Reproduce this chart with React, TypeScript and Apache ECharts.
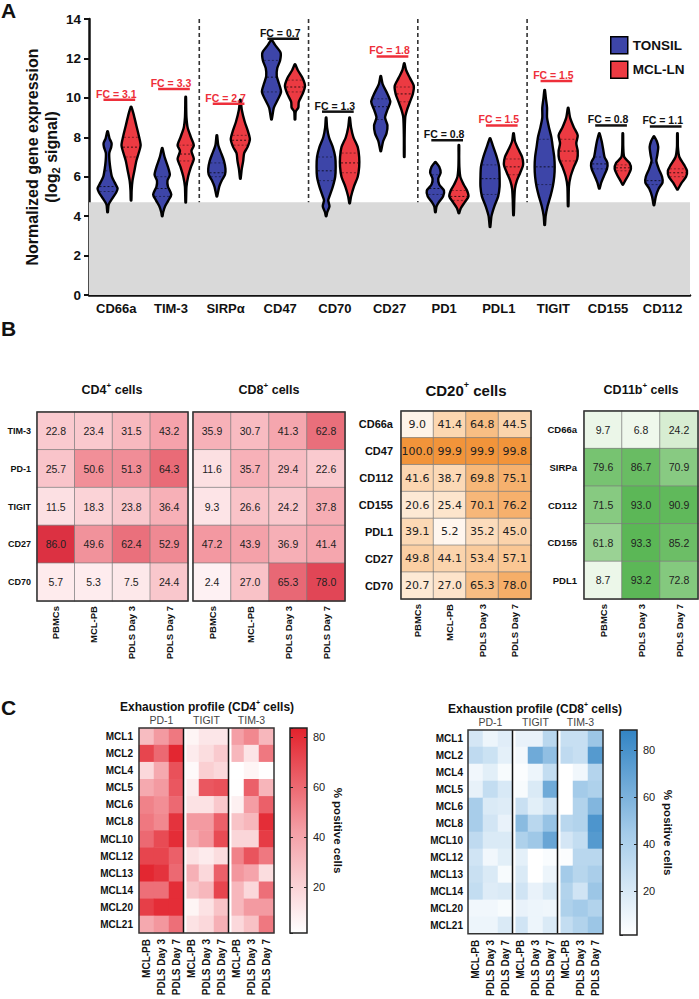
import React, { useEffect, useRef } from 'react';
import * as echarts from 'echarts';

const FONT = '"Liberation Sans", Arial, Helvetica, sans-serif';
const INK = '#111111';
const BLUE = '#3d45a8';
const RED = '#ec3a42';
const FC_RED = '#ee2f3a';

// ---------------- Panel A data ----------------
const MARKERS = ['CD66a', 'TIM-3', 'SIRPα', 'CD47', 'CD70', 'CD27', 'PD1', 'PDL1', 'TIGIT', 'CD155', 'CD112'];
const GROUPS = ['TONSIL', 'MCL-LN'];
const DETECTION_LIMIT = 4.7;
const SEPARATOR_AFTER = [1, 3, 5, 7];
const FC_VALUES = ['3.1', '3.3', '2.7', '0.7', '1.3', '1.8', '0.8', '1.5', '1.5', '0.8', '1.1'];
const FC_SIGNIFICANT = [true, true, true, false, false, true, false, true, true, false, false];
const FC_BAR_Y = [9.9, 10.45, 9.7, 13.0, 9.3, 12.1, 7.85, 8.6, 10.85, 8.6, 8.55];

// density profiles [log2 signal, relative density], bottom to top
const TONSIL_PROFILES = [
  [[4.2, 0.03], [4.6, 0.12], [4.9, 0.5], [5.2, 0.9], [5.4, 1.05], [5.7, 0.75], [6.0, 0.45], [6.4, 0.3], [6.8, 0.2], [7.2, 0.18], [7.5, 0.38], [7.7, 0.42], [7.95, 0.2], [8.3, 0.03]],
  [[4.0, 0.03], [4.2, 0.1], [4.5, 0.3], [4.8, 0.65], [5.1, 0.95], [5.5, 0.6], [5.8, 0.55], [6.1, 0.8], [6.5, 0.6], [7.0, 0.25], [7.45, 0.03]],
  [[5.0, 0.03], [5.5, 0.25], [5.8, 0.5], [6.1, 0.85], [6.4, 0.9], [6.8, 0.75], [7.2, 0.45], [7.6, 0.15], [8.1, 0.03]],
  [[8.9, 0.03], [9.5, 0.25], [9.9, 0.65], [10.3, 1.0], [10.7, 0.8], [11.1, 0.55], [11.5, 0.6], [11.9, 0.9], [12.3, 0.95], [12.7, 0.35], [12.95, 0.03]],
  [[4.0, 0.03], [4.2, 0.12], [4.5, 0.35], [4.8, 0.22], [5.0, 0.35], [5.5, 0.7], [6.0, 0.95], [6.5, 1.0], [7.0, 0.95], [7.5, 0.7], [8.0, 0.3], [8.5, 0.1], [9.0, 0.03]],
  [[7.3, 0.03], [7.8, 0.25], [8.2, 0.6], [8.6, 0.7], [9.0, 0.45], [9.4, 0.7], [9.8, 1.0], [10.2, 0.7], [10.7, 0.2], [11.1, 0.03]],
  [[4.2, 0.03], [4.5, 0.12], [4.7, 0.35], [5.0, 0.8], [5.3, 0.9], [5.6, 0.4], [5.9, 0.3], [6.2, 0.55], [6.5, 0.4], [6.75, 0.03]],
  [[3.45, 0.03], [4.0, 0.15], [4.5, 0.45], [5.0, 0.85], [5.5, 1.0], [6.0, 1.0], [6.5, 0.95], [7.0, 0.7], [7.5, 0.35], [7.95, 0.03]],
  [[3.55, 0.03], [4.0, 0.1], [4.5, 0.3], [5.0, 0.6], [5.5, 0.85], [6.0, 1.0], [6.5, 1.05], [7.0, 1.0], [7.5, 0.85], [8.0, 0.7], [8.5, 0.45], [9.0, 0.25], [9.5, 0.25], [10.0, 0.12], [10.4, 0.03]],
  [[5.4, 0.03], [5.7, 0.2], [6.0, 0.45], [6.4, 0.8], [6.7, 0.85], [7.0, 0.55], [7.4, 0.4], [7.8, 0.25], [8.2, 0.03]],
  [[4.55, 0.03], [5.0, 0.2], [5.4, 0.5], [5.7, 0.9], [6.0, 0.85], [6.4, 0.5], [6.8, 0.25], [7.1, 0.35], [7.5, 0.45], [7.8, 0.3], [8.05, 0.03]],
];
const MCL_PROFILES = [
  [[4.8, 0.03], [5.3, 0.06], [5.8, 0.15], [6.3, 0.35], [6.8, 0.55], [7.2, 0.8], [7.6, 1.0], [8.0, 0.85], [8.6, 0.55], [9.2, 0.25], [9.55, 0.03]],
  [[4.7, 0.03], [5.5, 0.08], [6.0, 0.25], [6.5, 0.55], [6.9, 0.85], [7.3, 0.6], [7.6, 0.85], [8.0, 0.55], [8.5, 0.2], [9.0, 0.08], [9.5, 0.05], [10.05, 0.03]],
  [[5.9, 0.03], [6.4, 0.15], [6.8, 0.3], [7.2, 0.4], [7.5, 0.75], [7.9, 1.0], [8.3, 0.8], [8.8, 0.45], [9.4, 0.15], [9.9, 0.03]],
  [[8.9, 0.03], [9.3, 0.08], [9.5, 0.35], [9.8, 0.4], [10.2, 0.8], [10.6, 1.05], [11.0, 0.8], [11.4, 0.3], [11.7, 0.03]],
  [[4.65, 0.03], [5.0, 0.15], [5.5, 0.45], [6.0, 0.85], [6.5, 1.0], [7.0, 1.0], [7.5, 0.85], [8.0, 0.4], [8.5, 0.15], [9.0, 0.03]],
  [[7.0, 0.03], [8.0, 0.04], [9.0, 0.1], [9.4, 0.3], [9.8, 0.6], [10.2, 0.9], [10.6, 1.0], [11.0, 0.6], [11.4, 0.2], [11.75, 0.03]],
  [[4.15, 0.03], [4.4, 0.2], [4.7, 0.6], [5.0, 1.0], [5.3, 0.85], [5.6, 0.5], [6.0, 0.15], [6.5, 0.05], [7.0, 0.03], [7.6, 0.03]],
  [[4.05, 0.03], [4.8, 0.08], [5.4, 0.15], [5.8, 0.35], [6.2, 0.7], [6.6, 1.0], [7.0, 0.9], [7.4, 0.5], [7.8, 0.15], [8.2, 0.03]],
  [[4.5, 0.03], [5.5, 0.08], [6.0, 0.25], [6.5, 0.6], [6.9, 0.95], [7.3, 1.0], [7.7, 0.85], [8.1, 1.0], [8.5, 0.6], [9.0, 0.2], [9.5, 0.03]],
  [[5.6, 0.03], [5.8, 0.25], [6.1, 0.6], [6.4, 0.85], [6.7, 0.7], [7.0, 0.15], [7.5, 0.05], [8.2, 0.03]],
  [[5.35, 0.03], [5.7, 0.45], [6.0, 0.9], [6.3, 1.0], [6.6, 0.7], [7.0, 0.2], [7.5, 0.05], [8.2, 0.03]],
];
// [Q1, median, Q3]
const TONSIL_QUARTILES = [
  [5.25, 5.5, 6.3], [5.0, 5.4, 6.0], [6.0, 6.2, 6.7], [10.3, 11.05, 11.9], [5.8, 6.3, 7.0], [8.9, 9.55, 9.95],
  [5.1, 5.4, 6.1], [5.1, 5.9, 6.6], [5.6, 6.5, 7.9], [6.4, 6.65, 7.0], [5.6, 5.8, 6.7],
];
const MCL_QUARTILES = [
  [7.0, 7.5, 8.0], [6.8, 7.15, 7.6], [7.6, 7.85, 8.1], [10.3, 10.55, 10.9], [6.2, 6.7, 7.2], [9.8, 10.2, 10.55],
  [4.8, 5.0, 5.3], [6.1, 6.5, 6.9], [6.8, 7.3, 7.9], [6.3, 6.45, 6.6], [6.0, 6.2, 6.4],
];

// ---------------- Panel B data ----------------
const B_COLS = ['PBMCs', 'MCL-PB', 'PDLS Day 3', 'PDLS Day 7'];
const TCELL_ROWS = ['TIM-3', 'PD-1', 'TIGIT', 'CD27', 'CD70'];
const CD4_VALUES = [
  [22.8, 23.4, 31.5, 43.2],
  [25.7, 50.6, 51.3, 64.3],
  [11.5, 18.3, 23.8, 36.4],
  [86.0, 49.6, 62.4, 52.9],
  [5.7, 5.3, 7.5, 24.4],
];
const CD8_VALUES = [
  [35.9, 30.7, 41.3, 62.8],
  [11.6, 35.7, 29.4, 22.6],
  [9.3, 26.6, 24.2, 37.8],
  [47.2, 43.9, 36.9, 41.4],
  [2.4, 27.0, 65.3, 78.0],
];
const CD20_ROWS = ['CD66a', 'CD47', 'CD112', 'CD155', 'PDL1', 'CD27', 'CD70'];
const CD20_VALUES = [
  [9.0, 41.4, 64.8, 44.5],
  [100.0, 99.9, 99.9, 99.8],
  [41.6, 38.7, 69.8, 75.1],
  [20.6, 25.4, 70.1, 76.2],
  [39.1, 5.2, 35.2, 45.0],
  [49.8, 44.1, 53.4, 57.1],
  [20.7, 27.0, 65.3, 78.0],
];
const CD11B_COLS = ['PBMCs', 'PDLS Day 3', 'PDLS Day 7'];
const CD11B_ROWS = ['CD66a', 'SIRPa', 'CD112', 'CD155', 'PDL1'];
const CD11B_VALUES = [
  [9.7, 6.8, 24.2],
  [79.6, 86.7, 70.9],
  [71.5, 93.0, 90.9],
  [61.8, 93.3, 85.2],
  [8.7, 93.2, 72.8],
];

// ---------------- Panel C data ----------------
const EXH_ROWS = ['MCL1', 'MCL2', 'MCL4', 'MCL5', 'MCL6', 'MCL8', 'MCL10', 'MCL12', 'MCL13', 'MCL14', 'MCL20', 'MCL21'];
const EXH_MARKERS = ['PD-1', 'TIGIT', 'TIM-3'];
const EXH_TIMEPOINTS = ['MCL-PB', 'PDLS Day 3', 'PDLS Day 7'];
const EXH_GROUP_ENDS = [2, 5];
// columns: PD-1 (PB, D3, D7), TIGIT (PB, D3, D7), TIM-3 (PB, D3, D7)
const CD4_EXH = [
  [30, 44, 55, 6, 12, 12, 42, 50, 32],
  [72, 60, 82, 10, 16, 24, 32, 13, 55],
  [18, 38, 68, 4, 22, 18, 1, 6, 2],
  [38, 44, 66, 10, 66, 68, 2, 63, 33],
  [52, 48, 60, 14, 14, 25, 8, 43, 63],
  [55, 50, 78, 44, 44, 63, 27, 32, 80],
  [60, 70, 80, 38, 45, 70, 19, 19, 75],
  [72, 72, 63, 14, 10, 16, 52, 67, 55],
  [82, 78, 60, 35, 18, 63, 45, 40, 16],
  [58, 58, 80, 26, 32, 72, 32, 18, 58],
  [74, 80, 80, 6, 14, 27, 32, 44, 44],
  [38, 45, 58, 14, 18, 35, 18, 28, 55],
];
const CD8_EXH = [
  [22, 10, 16, 12, 12, 35, 28, 28, 48],
  [32, 26, 14, 7, 65, 52, 32, 28, 75],
  [8, 15, 5, 3, 10, 30, 1, 8, 37],
  [13, 30, 20, 5, 19, 65, 1, 45, 40],
  [43, 19, 17, 27, 15, 24, 1, 38, 58],
  [43, 23, 12, 55, 35, 50, 35, 38, 78],
  [32, 19, 19, 40, 47, 68, 22, 30, 75],
  [24, 8, 15, 14, 1, 4, 3, 35, 35],
  [27, 19, 5, 19, 1, 10, 45, 36, 42],
  [30, 17, 19, 24, 12, 20, 38, 24, 48],
  [8, 8, 5, 12, 10, 9, 40, 45, 38],
  [10, 10, 19, 24, 10, 19, 30, 38, 48],
];
const CB4_RANGE = [1.6, 83.6];
const CB8_RANGE = [1.3, 88.5];

// ---------------- colour scales ----------------
const RED_B = ['#fff6f7', '#f5a3ab', '#dc3142'];
const ORANGE_B = ['#fffbf7', '#fbcfa3', '#f2943a'];
const GREEN_B = ['#f8fcf6', '#b7dfb0', '#58b553'];
const RED_C = ['#ffffff', '#f49ea5', '#e2222c'];
const BLUE_C = ['#ffffff', '#a4cbe9', '#3284c4'];

function interpWidth(profile: number[][], y: number) {
  for (let k = 0; k < profile.length - 1; k++) {
    const [y0, w0] = profile[k];
    const [y1, w1] = profile[k + 1];
    if (y >= y0 && y <= y1) return w0 + ((w1 - w0) * (y - y0)) / (y1 - y0);
  }
  return 0;
}

function violinRenderer(profiles: number[][][], quartiles: number[][], offset: number, color: string) {
  return (params: any, api: any) => {
    const i = params.dataIndex;
    const cat = api.value(0);
    const band = api.size([1, 0])[0];
    const cx = api.coord([cat, 0])[0] + offset * band;
    const half = 0.175 * band;
    const prof = profiles[i];
    const left = prof.map(([y, w]) => [cx - w * half, api.coord([cat, y])[1]]);
    const right = prof.slice().reverse().map(([y, w]) => [cx + w * half, api.coord([cat, y])[1]]);
    const children: any[] = [
      {
        type: 'polygon',
        shape: { points: left.concat(right), smooth: 0.25 },
        style: { fill: color, stroke: '#000', lineWidth: 2.4, lineJoin: 'round' },
      },
    ];
    quartiles[i].forEach((q, k) => {
      const hw = Math.max(0, interpWidth(prof, q) * half - 1);
      const y = api.coord([cat, q])[1];
      children.push({
        type: 'line',
        shape: { x1: cx - hw, y1: y, x2: cx + hw, y2: y },
        style: { stroke: k === 1 ? 'rgba(0,0,0,0.75)' : 'rgba(0,0,0,0.45)', lineWidth: 1, lineDash: [2, 2] },
      });
    });
    return { type: 'group', children };
  };
}

const toCells = (m: number[][]) => m.flatMap((row, r) => row.map((v, c) => [c, r, v]));

function gradientStops(colors: string[]) {
  return colors.map((c, k) => ({ offset: k / (colors.length - 1), color: c }));
}

function colorbarRenderer(colors: string[]) {
  return (params: any) => {
    const cs = params.coordSys;
    return {
      type: 'rect',
      shape: { x: cs.x, y: cs.y, width: cs.width, height: cs.height },
      style: {
        fill: new echarts.graphic.LinearGradient(0, 1, 0, 0, gradientStops(colors)),
        stroke: '#222',
        lineWidth: 1.5,
      },
    };
  };
}

function separatorRenderer(params: any, api: any) {
  const cs = params.coordSys;
  const band = api.size([1, 0])[0];
  const x = api.coord([api.value(0), 0])[0] + band / 2;
  return {
    type: 'group',
    children: [
      { type: 'rect', shape: { x: x - 1, y: cs.y, width: 3.5, height: cs.height }, style: { fill: '#fff' } },
      { type: 'line', shape: { x1: x - 0.5, y1: cs.y, x2: x - 0.5, y2: cs.y + cs.height }, style: { stroke: '#111', lineWidth: 1.5 } },
    ],
  };
}

const hiddenCat = (gridIndex: number, data: string[]) => ({
  gridIndex,
  type: 'category',
  data,
  axisLine: { show: false },
  axisTick: { show: false },
  splitLine: { show: false },
  axisLabel: { show: false },
});

const rowAxis = (gridIndex: number, data: string[], fontSize: number, margin: number, show = true) => ({
  gridIndex,
  type: 'category',
  data,
  inverse: true,
  axisLine: { show: false },
  axisTick: { show: false },
  splitLine: { show: false },
  axisLabel: { show, interval: 0, fontSize, fontWeight: 'bold', color: INK, margin, fontFamily: FONT },
});

const colAxis = (gridIndex: number, data: string[], fontSize: number, margin: number, formatter?: any) => ({
  gridIndex,
  type: 'category',
  data,
  axisLine: { show: false },
  axisTick: { show: false },
  splitLine: { show: false },
  axisLabel: { interval: 0, rotate: 90, fontSize, fontWeight: 'bold', color: INK, margin, fontFamily: FONT, formatter },
});

const groupAxis = (gridIndex: number) => ({
  gridIndex,
  type: 'category',
  position: 'top',
  data: EXH_MARKERS,
  axisLine: { show: false },
  axisTick: { show: false },
  splitLine: { show: false },
  axisLabel: { interval: 0, fontSize: 10.5, color: '#444', margin: 3, fontFamily: FONT },
});

const cbAxis = (gridIndex: number, range: number[], right: boolean) => ({
  gridIndex,
  type: 'value',
  min: range[0],
  max: range[1],
  splitNumber: 4,
  position: right ? 'right' : 'left',
  z: 10,
  axisLine: { show: false },
  axisTick: { show: true, inside: true, length: 3, lineStyle: { color: '#222', width: 1 } },
  splitLine: { show: false },
  axisLabel: { show: right, showMinLabel: false, showMaxLabel: false, fontSize: 11, color: '#222', margin: 6, fontFamily: FONT },
  name: right ? '% positive cells' : '',
  nameLocation: 'middle',
  nameRotate: -90,
  nameGap: 25,
  nameMoveOverlap: false,
  nameTextStyle: { fontSize: 11.5, fontWeight: 'bold', color: INK, fontFamily: FONT },
});

const boxGrid = (left: number, top: number, width: number, height: number) => ({
  left, top, width, height, show: true, z: 10, backgroundColor: 'transparent', borderColor: '#333', borderWidth: 1.5,
});

const exhKeys = EXH_MARKERS.flatMap((m) => EXH_TIMEPOINTS.map((t) => `${m}|${t}`));
const exhFormatter = (v: string) => v.split('|')[1];

function heatB(xi: number, yi: number, data: number[][], fontSize: number, fontFamily: string) {
  return {
    type: 'heatmap',
    xAxisIndex: xi,
    yAxisIndex: yi,
    data: toCells(data),
    label: {
      show: true,
      formatter: (p: any) => Number(p.value[2]).toFixed(1),
      fontSize,
      color: '#222',
      fontFamily,
    },
    itemStyle: { borderColor: '#7d7d7d', borderWidth: 0.7 },
    emphasis: { disabled: true },
  };
}

function heatC(xi: number, yi: number, data: number[][]) {
  return {
    type: 'heatmap',
    xAxisIndex: xi,
    yAxisIndex: yi,
    data: toCells(data),
    itemStyle: { borderWidth: 0 },
    emphasis: { disabled: true },
  };
}

function titleText(x: number, y: number, main: string, tail: string, size: number) {
  return {
    type: 'text',
    x,
    y,
    style: {
      text: `{b|${main}}{s|+}{b|${tail}}`,
      align: 'center',
      verticalAlign: 'middle',
      rich: {
        b: { fontSize: size, fontWeight: 'bold', fontFamily: FONT, fill: INK, lineHeight: size + 4 },
        s: { fontSize: Math.round(size * 0.62), fontWeight: 'bold', fontFamily: FONT, fill: INK, verticalAlign: 'top', lineHeight: size * 0.62 },
      },
    },
  };
}

function panelLetter(x: number, y: number, t: string) {
  return { type: 'text', x, y, style: { text: t, fontSize: 21, fontWeight: 'bold', fontFamily: FONT, fill: INK } };
}

function buildOption() {
  return {
    animation: false,
    backgroundColor: '#ffffff',
    textStyle: { fontFamily: FONT },
    legend: {
      data: GROUPS,
      orient: 'vertical',
      left: 605,
      top: 31,
      icon: 'rect',
      itemWidth: 17,
      itemHeight: 17,
      itemGap: 6,
      selectedMode: false,
      textStyle: { fontSize: 13.5, fontWeight: 'bold', color: INK, fontFamily: FONT },
      itemStyle: { borderColor: '#000', borderWidth: 1.5 },
    },
    grid: [
      { left: 89, top: 19, width: 601, height: 276 },
      boxGrid(37, 412, 151, 189),
      boxGrid(193, 412, 152, 189),
      boxGrid(401, 411, 130, 188),
      boxGrid(584, 411, 114, 188),
      boxGrid(139, 728, 135, 205),
      { left: 290, top: 728, width: 17, height: 205 },
      boxGrid(468, 730, 135, 205),
      { left: 620, top: 730, width: 17, height: 205 },
    ],
    xAxis: [
      {
        gridIndex: 0,
        type: 'category',
        data: MARKERS,
        axisLine: { show: true, lineStyle: { color: INK, width: 2.5 } },
        axisTick: { show: false },
        axisLabel: { interval: 0, fontSize: 13, fontWeight: 'bold', color: INK, margin: 7, fontFamily: FONT },
      },
      colAxis(1, B_COLS, 9.5, 5),
      colAxis(2, B_COLS, 9.5, 5),
      colAxis(3, B_COLS, 9.5, 5),
      colAxis(4, CD11B_COLS, 9.5, 5),
      colAxis(5, exhKeys, 10, 6, exhFormatter),
      groupAxis(5),
      hiddenCat(6, ['']),
      colAxis(7, exhKeys, 10, 6, exhFormatter),
      groupAxis(7),
      hiddenCat(8, ['']),
    ],
    yAxis: [
      {
        gridIndex: 0,
        type: 'value',
        min: 0,
        max: 14,
        interval: 2,
        axisLine: { show: true, lineStyle: { color: INK, width: 2.5 } },
        axisTick: { show: true, length: 5, lineStyle: { color: INK, width: 2 } },
        splitLine: { show: false },
        axisLabel: { fontSize: 13.5, fontWeight: 'bold', color: INK, margin: 8, fontFamily: FONT },
        name: 'Normalized gene expression\n{n|(log}{s|2}{n| signal)}',
        nameLocation: 'middle',
        nameRotate: 90,
        nameGap: 28,
        nameMoveOverlap: false,
        nameTextStyle: {
          fontSize: 16,
          fontWeight: 'bold',
          color: INK,
          lineHeight: 19,
          fontFamily: FONT,
          rich: {
            n: { fontSize: 16, fontWeight: 'bold', color: INK, lineHeight: 19, fontFamily: FONT },
            s: { fontSize: 11, fontWeight: 'bold', color: INK, lineHeight: 19, verticalAlign: 'bottom', fontFamily: FONT },
          },
        },
      },
      rowAxis(1, TCELL_ROWS, 9, 6),
      rowAxis(2, TCELL_ROWS, 9, 6, false),
      rowAxis(3, CD20_ROWS, 11, 8),
      rowAxis(4, CD11B_ROWS, 9.5, 7),
      rowAxis(5, EXH_ROWS, 10, 6),
      cbAxis(6, CB4_RANGE, true),
      cbAxis(6, CB4_RANGE, false),
      rowAxis(7, EXH_ROWS, 10, 5),
      cbAxis(8, CB8_RANGE, true),
      cbAxis(8, CB8_RANGE, false),
    ],
    visualMap: [
      { show: false, seriesIndex: [5, 6], min: 0, max: 86, dimension: 2, inRange: { color: RED_B } },
      { show: false, seriesIndex: 7, min: 0, max: 100, dimension: 2, inRange: { color: ORANGE_B } },
      { show: false, seriesIndex: 8, min: 0, max: 95, dimension: 2, inRange: { color: GREEN_B } },
      { show: false, seriesIndex: 9, min: CB4_RANGE[0], max: CB4_RANGE[1], dimension: 2, inRange: { color: RED_C } },
      { show: false, seriesIndex: 12, min: CB8_RANGE[0], max: CB8_RANGE[1], dimension: 2, inRange: { color: BLUE_C } },
    ],
    series: [
      {
        type: 'custom',
        xAxisIndex: 0,
        yAxisIndex: 0,
        z: 1,
        silent: true,
        data: [[0, DETECTION_LIMIT]],
        renderItem: (params: any, api: any) => {
          const cs = params.coordSys;
          const yTop = api.coord([0, api.value(1)])[1];
          const yBot = api.coord([0, 0])[1];
          return { type: 'rect', shape: { x: cs.x, y: yTop, width: cs.width, height: yBot - yTop }, style: { fill: '#d9d9d9' } };
        },
      },
      {
        type: 'custom',
        xAxisIndex: 0,
        yAxisIndex: 0,
        z: 1,
        silent: true,
        data: SEPARATOR_AFTER.map((i) => [i, DETECTION_LIMIT]),
        renderItem: (params: any, api: any) => {
          const cs = params.coordSys;
          const band = api.size([1, 0])[0];
          const x = api.coord([api.value(0), 0])[0] + band / 2 + 1;
          const yBot = api.coord([0, api.value(1)])[1];
          return { type: 'line', shape: { x1: x, y1: cs.y, x2: x, y2: yBot }, style: { stroke: '#333', lineWidth: 1.6, lineDash: [4, 3] } };
        },
      },
      {
        type: 'custom',
        name: GROUPS[0],
        xAxisIndex: 0,
        yAxisIndex: 0,
        z: 3,
        itemStyle: { color: BLUE },
        data: MARKERS.map((m, i) => [i, TONSIL_QUARTILES[i][1]]),
        renderItem: violinRenderer(TONSIL_PROFILES, TONSIL_QUARTILES, -0.16, BLUE),
      },
      {
        type: 'custom',
        name: GROUPS[1],
        xAxisIndex: 0,
        yAxisIndex: 0,
        z: 3,
        itemStyle: { color: RED },
        data: MARKERS.map((m, i) => [i, MCL_QUARTILES[i][1]]),
        renderItem: violinRenderer(MCL_PROFILES, MCL_QUARTILES, 0.27, RED),
      },
      {
        type: 'custom',
        xAxisIndex: 0,
        yAxisIndex: 0,
        z: 4,
        silent: true,
        data: MARKERS.map((m, i) => [i, FC_BAR_Y[i]]),
        renderItem: (params: any, api: any) => {
          const i = params.dataIndex;
          const band = api.size([1, 0])[0];
          const p = api.coord([api.value(0), api.value(1)]);
          const cx = p[0] + 0.055 * band;
          const hl = 0.29 * band;
          const color = FC_SIGNIFICANT[i] ? FC_RED : INK;
          return {
            type: 'group',
            children: [
              { type: 'line', shape: { x1: cx - hl, y1: p[1], x2: cx + hl, y2: p[1] }, style: { stroke: color, lineWidth: 2.5 } },
              {
                type: 'text',
                x: cx - 3,
                y: p[1] - 0.5,
                style: {
                  text: `FC = ${FC_VALUES[i]}`,
                  fill: color,
                  fontSize: 10.5,
                  fontWeight: 'bold',
                  fontFamily: FONT,
                  align: 'center',
                  verticalAlign: 'bottom',
                },
              },
            ],
          };
        },
      },
      heatB(1, 1, CD4_VALUES, 10.5, FONT),
      heatB(2, 2, CD8_VALUES, 10.5, FONT),
      heatB(3, 3, CD20_VALUES, 11, '"DejaVu Sans", Verdana, sans-serif'),
      heatB(4, 4, CD11B_VALUES, 10.5, FONT),
      heatC(5, 5, CD4_EXH),
      {
        type: 'custom',
        xAxisIndex: 5,
        yAxisIndex: 5,
        z: 5,
        silent: true,
        data: EXH_GROUP_ENDS.map((g) => [g, 0]),
        renderItem: separatorRenderer,
      },
      {
        type: 'custom',
        xAxisIndex: 7,
        yAxisIndex: 6,
        z: 2,
        silent: true,
        data: [[0, CB4_RANGE[0]]],
        renderItem: colorbarRenderer(RED_C),
      },
      heatC(8, 8, CD8_EXH),
      {
        type: 'custom',
        xAxisIndex: 8,
        yAxisIndex: 8,
        z: 5,
        silent: true,
        data: EXH_GROUP_ENDS.map((g) => [g, 0]),
        renderItem: separatorRenderer,
      },
      {
        type: 'custom',
        xAxisIndex: 10,
        yAxisIndex: 9,
        z: 2,
        silent: true,
        data: [[0, CB8_RANGE[0]]],
        renderItem: colorbarRenderer(BLUE_C),
      },
    ],
    graphic: {
      elements: [
        panelLetter(1, 0, 'A'),
        panelLetter(1, 318, 'B'),
        panelLetter(1, 697, 'C'),
        titleText(112, 390, 'CD4', ' cells', 12.5),
        titleText(269, 390, 'CD8', ' cells', 12.5),
        titleText(466, 390, 'CD20', ' cells', 15),
        titleText(641, 390, 'CD11b', ' cells', 12.5),
        titleText(207, 707, 'Exhaustion profile (CD4', ' cells)', 12),
        titleText(535, 709, 'Exhaustion profile (CD8', ' cells)', 12),
      ],
    },
  };
}

export default function App() {
  const ref = useRef<HTMLDivElement>(null);
  useEffect(() => {
    document.body.style.margin = '0';
    const chart = echarts.init(ref.current as HTMLDivElement, null, { renderer: 'svg' });
    chart.setOption(buildOption() as any);
    return () => chart.dispose();
  }, []);
  return <div ref={ref} style={{ width: 699, height: 999, background: '#fff' }} />;
}
